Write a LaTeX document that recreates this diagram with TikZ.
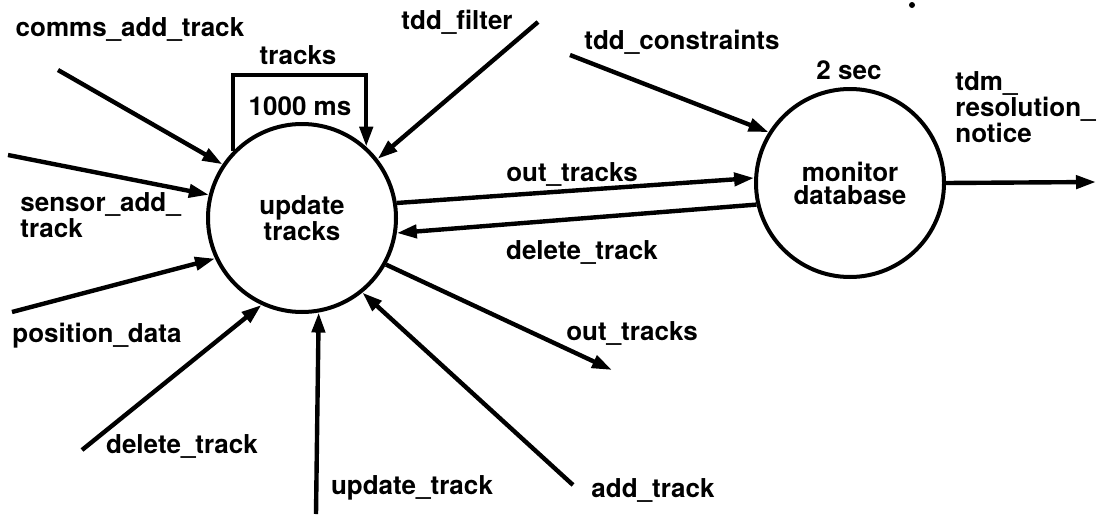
\documentclass[tikz,border=0pt]{standalone}
\usepackage{fontspec}
\setmainfont{TeX Gyre Heros}
\usetikzlibrary{arrows.meta,positioning}

\begin{document}
\begin{tikzpicture}[x=0.5pt, y=-0.5pt,
        font=\fontsize{13}{11.5}\selectfont\bfseries,
        process/.style={draw, circle, line width=2pt, minimum size=94pt,
                        inner sep=0pt, align=center},
        flow/.style={-{Triangle[length=10pt, width=6.5pt]}, line width=2.2pt},
        lbl/.style={inner sep=0pt}]
        \useasboundingbox (0, 0) rectangle (1097, 514);

        \node [process] (update) at (302, 218) {update\\tracks};
        \node [process] (monitor) at (850, 183) {monitor\\database};

        \coordinate (comms-start) at (58, 70);
        \coordinate (filter-start) at (538, 22);
        \coordinate (sensor-start) at (8, 155);
        \coordinate (position-start) at (12, 312);
        \coordinate (delete-start) at (82, 450);
        \coordinate (updtrk-start) at (316, 514);
        \coordinate (add-start) at (573, 485);
        \coordinate (out-end) at (612, 370);
        \coordinate (constraints-start) at (570, 55);
        \coordinate (notice-end) at (1096, 182);
        \coordinate (loop-top) at (300, 75);

        \draw [flow] (comms-start) -- (update.146);
        \draw [flow] (filter-start) -- (update.38);
        \draw [flow] (sensor-start) -- (update.166);
        \draw [flow] (position-start) -- (update.205);
        \draw [flow] (delete-start) -- (update.245);
        \draw [flow] (updtrk-start) -- (update.280);
        \draw [flow] (add-start) -- (update.309);
        \draw [flow] (update.331) -- (out-end);
        \draw [flow] (update.9) -- (monitor.177);
        \draw [flow] (monitor.193) -- (update.351);
        \draw [flow] (constraints-start) -- (monitor.148);
        \draw [flow] (monitor.0) -- (notice-end);
        \draw [flow] (update.136) |- (loop-top) -| (update.48);

        \node [lbl] (comms-lbl) at (130, 29) {comms\_add\_track};
        \node [lbl] (tracks-lbl) at (298, 55) {tracks};
        \node [lbl] (period-lbl) at (300, 106) {1000 ms};
        \node [lbl] (filter-lbl) at (457, 22) {tdd\_filter};
        \node [lbl] (constraints-lbl) at (682, 42) {tdd\_constraints};
        \node [lbl] (rate-lbl) at (849, 70) {2 sec};
        \node [lbl, anchor=west, align=left] (notice-lbl) at (955, 107)
                {tdm\_\\resolution\_\\notice};
        \node [lbl, anchor=west, align=left] (sensor-lbl) at (20, 215)
                {sensor\_add\_\\track};
        \node [lbl] (position-lbl) at (97, 336) {position\_data};
        \node [lbl] (delete-lbl) at (182, 446) {delete\_track};
        \node [lbl] (updtrk-lbl) at (412, 488) {update\_track};
        \node [lbl] (add-lbl) at (653, 490) {add\_track};
        \node [lbl] (out-lbl) at (632, 333) {out\_tracks};
        \node [lbl] (outmid-lbl) at (572, 174) {out\_tracks};
        \node [lbl] (delmid-lbl) at (582, 252) {delete\_track};

        \fill (912, 5) circle (1.5pt);
\end{tikzpicture}
\end{document}
